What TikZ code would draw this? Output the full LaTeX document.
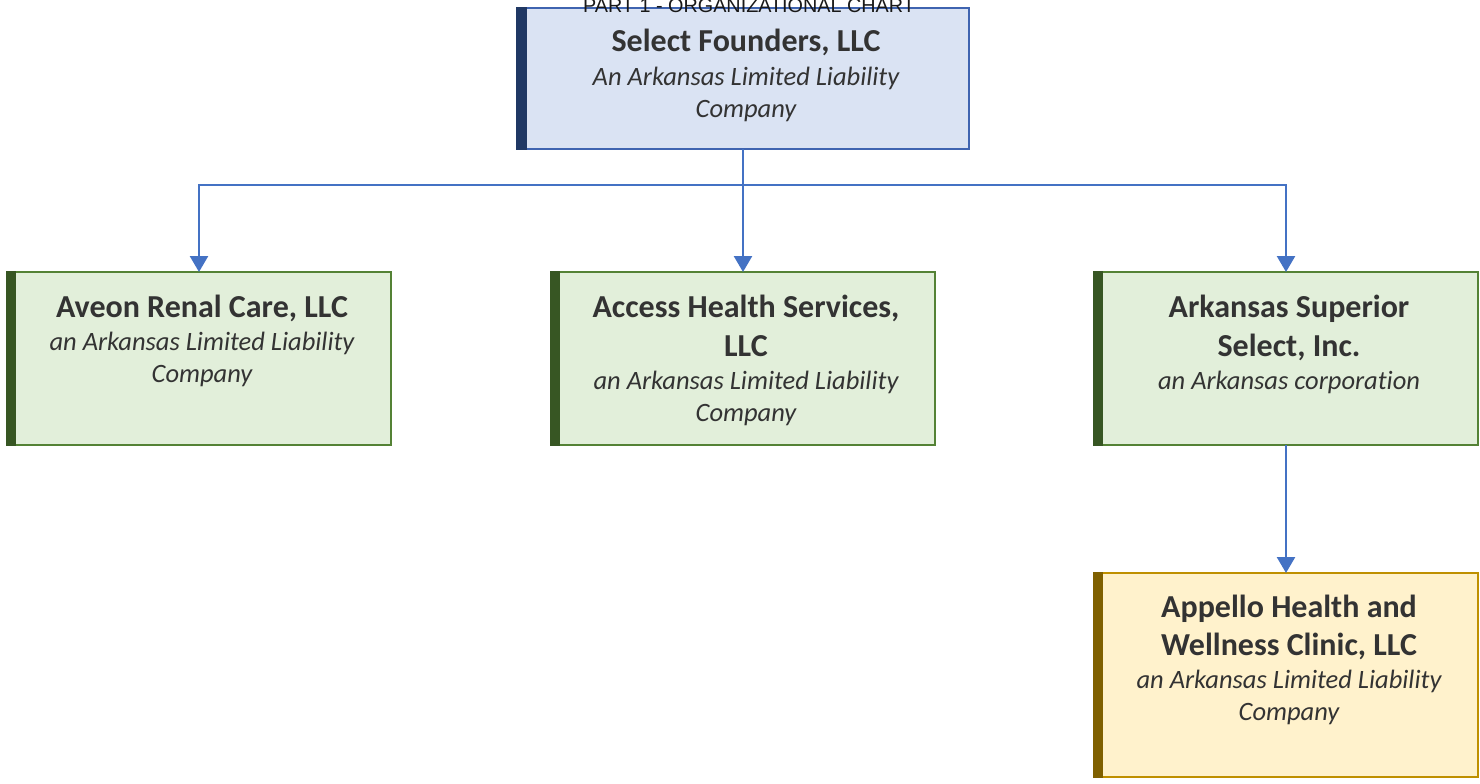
\documentclass[tikz,border=0pt]{standalone}
\usepackage{fontspec}
\setmainfont{Carlito}[Ligatures=NoCommon]
\newfontfamily\titlefont{Liberation Sans}
\usetikzlibrary{arrows.meta,calc}

\definecolor{txt}{HTML}{333333}
\definecolor{link}{HTML}{4472C4}
\definecolor{blueedge}{HTML}{3F64B0}
\definecolor{bluefill}{HTML}{DAE3F3}
\definecolor{bluebar}{HTML}{203864}
\definecolor{greenedge}{HTML}{548235}
\definecolor{greenfill}{HTML}{E2EFDA}
\definecolor{greenbar}{HTML}{375623}
\definecolor{goldedge}{HTML}{BF9000}
\definecolor{goldfill}{HTML}{FFF2CC}
\definecolor{goldbar}{HTML}{7F6000}

\tikzset{
  orgbox/.style={draw, line width=2pt, inner sep=0pt, outer sep=0pt, anchor=north west},
  bluebox/.style={orgbox, draw=blueedge, fill=bluefill},
  greenbox/.style={orgbox, draw=greenedge, fill=greenfill},
  goldbox/.style={orgbox, draw=goldedge, fill=goldfill},
  namefont/.style={anchor=base, inner sep=0pt, text=txt, font=\fontsize{32}{38}\selectfont\bfseries},
  descfont/.style={anchor=base, inner sep=0pt, text=txt, font=\fontsize{26.5}{32}\selectfont\itshape},
  link/.style={draw=link, line width=2.6pt, -{Triangle[length=16pt,width=18pt]}}
}

\begin{document}
\begin{tikzpicture}[x=1pt, y=-1pt]
\useasboundingbox (0,0) rectangle (1480,784);

% boxes
\node[bluebox,  minimum width=452pt, minimum height=141pt] (top)     at (517,8)    {};
\node[greenbox, minimum width=384pt, minimum height=173pt] (aveon)   at (7,272)    {};
\node[greenbox, minimum width=384pt, minimum height=173pt] (access)  at (551,272)  {};
\node[greenbox, minimum width=384pt, minimum height=173pt] (arksup)  at (1094,272) {};
\node[goldbox,  minimum width=384pt, minimum height=204pt] (appello) at (1094,573) {};

% accent bars on the left edges
\fill[bluebar]  ($(top.north west)+(-1,-1)$)     rectangle ($(top.south west)+(10,1)$);
\fill[greenbar] ($(aveon.north west)+(-1,-1)$)   rectangle ($(aveon.south west)+(9,1)$);
\fill[greenbar] ($(access.north west)+(-1,-1)$)  rectangle ($(access.south west)+(9,1)$);
\fill[greenbar] ($(arksup.north west)+(-1,-1)$)  rectangle ($(arksup.south west)+(9,1)$);
\fill[goldbar]  ($(appello.north west)+(-1,-1)$) rectangle ($(appello.south west)+(9,1)$);

% title
\node[anchor=base, inner sep=0pt, font=\titlefont\fontsize{19.8}{22}\selectfont, text=black!90] (title) at (749,13) {PART 1 - ORGANIZATIONAL CHART};

% texts
\node[namefont] (top-n) at ($(top.north)+(3,44)$) {Select Founders, LLC};
\node[descfont] (top-d1) at ($(top.north)+(3,77)$) {An Arkansas Limited Liability};
\node[descfont] (top-d2) at ($(top.north)+(3,109)$) {Company};

\node[namefont] (aveon-n) at ($(aveon.north)+(3,45)$) {Aveon Renal Care, LLC};
\node[descfont] (aveon-d1) at ($(aveon.north)+(3,78)$) {an Arkansas Limited Liability};
\node[descfont] (aveon-d2) at ($(aveon.north)+(3,110)$) {Company};

\node[namefont] (access-n1) at ($(access.north)+(3,45)$) {Access Health Services,};
\node[namefont] (access-n2) at ($(access.north)+(3,84)$) {LLC};
\node[descfont] (access-d1) at ($(access.north)+(3,117)$) {an Arkansas Limited Liability};
\node[descfont] (access-d2) at ($(access.north)+(3,149)$) {Company};

\node[namefont] (arksup-n1) at ($(arksup.north)+(3,45)$) {Arkansas Superior};
\node[namefont] (arksup-n2) at ($(arksup.north)+(3,84)$) {Select, Inc.};
\node[descfont] (arksup-d1) at ($(arksup.north)+(3,117)$) {an Arkansas corporation};

\node[namefont] (appello-n1) at ($(appello.north)+(3,44)$) {Appello Health and};
\node[namefont] (appello-n2) at ($(appello.north)+(3,82)$) {Wellness Clinic, LLC};
\node[descfont] (appello-d1) at ($(appello.north)+(3,115)$) {an Arkansas Limited Liability};
\node[descfont] (appello-d2) at ($(appello.north)+(3,147)$) {Company};

% connectors
\coordinate (bus) at ($(top.south)+(0,36)$);
\draw[link] (top.south) -- (bus) -| (aveon.north);
\draw[link] (top.south) -- (access.north);
\draw[link] (bus) -| (arksup.north);
\draw[link] (arksup.south) -- (appello.north);
\end{tikzpicture}
\end{document}
